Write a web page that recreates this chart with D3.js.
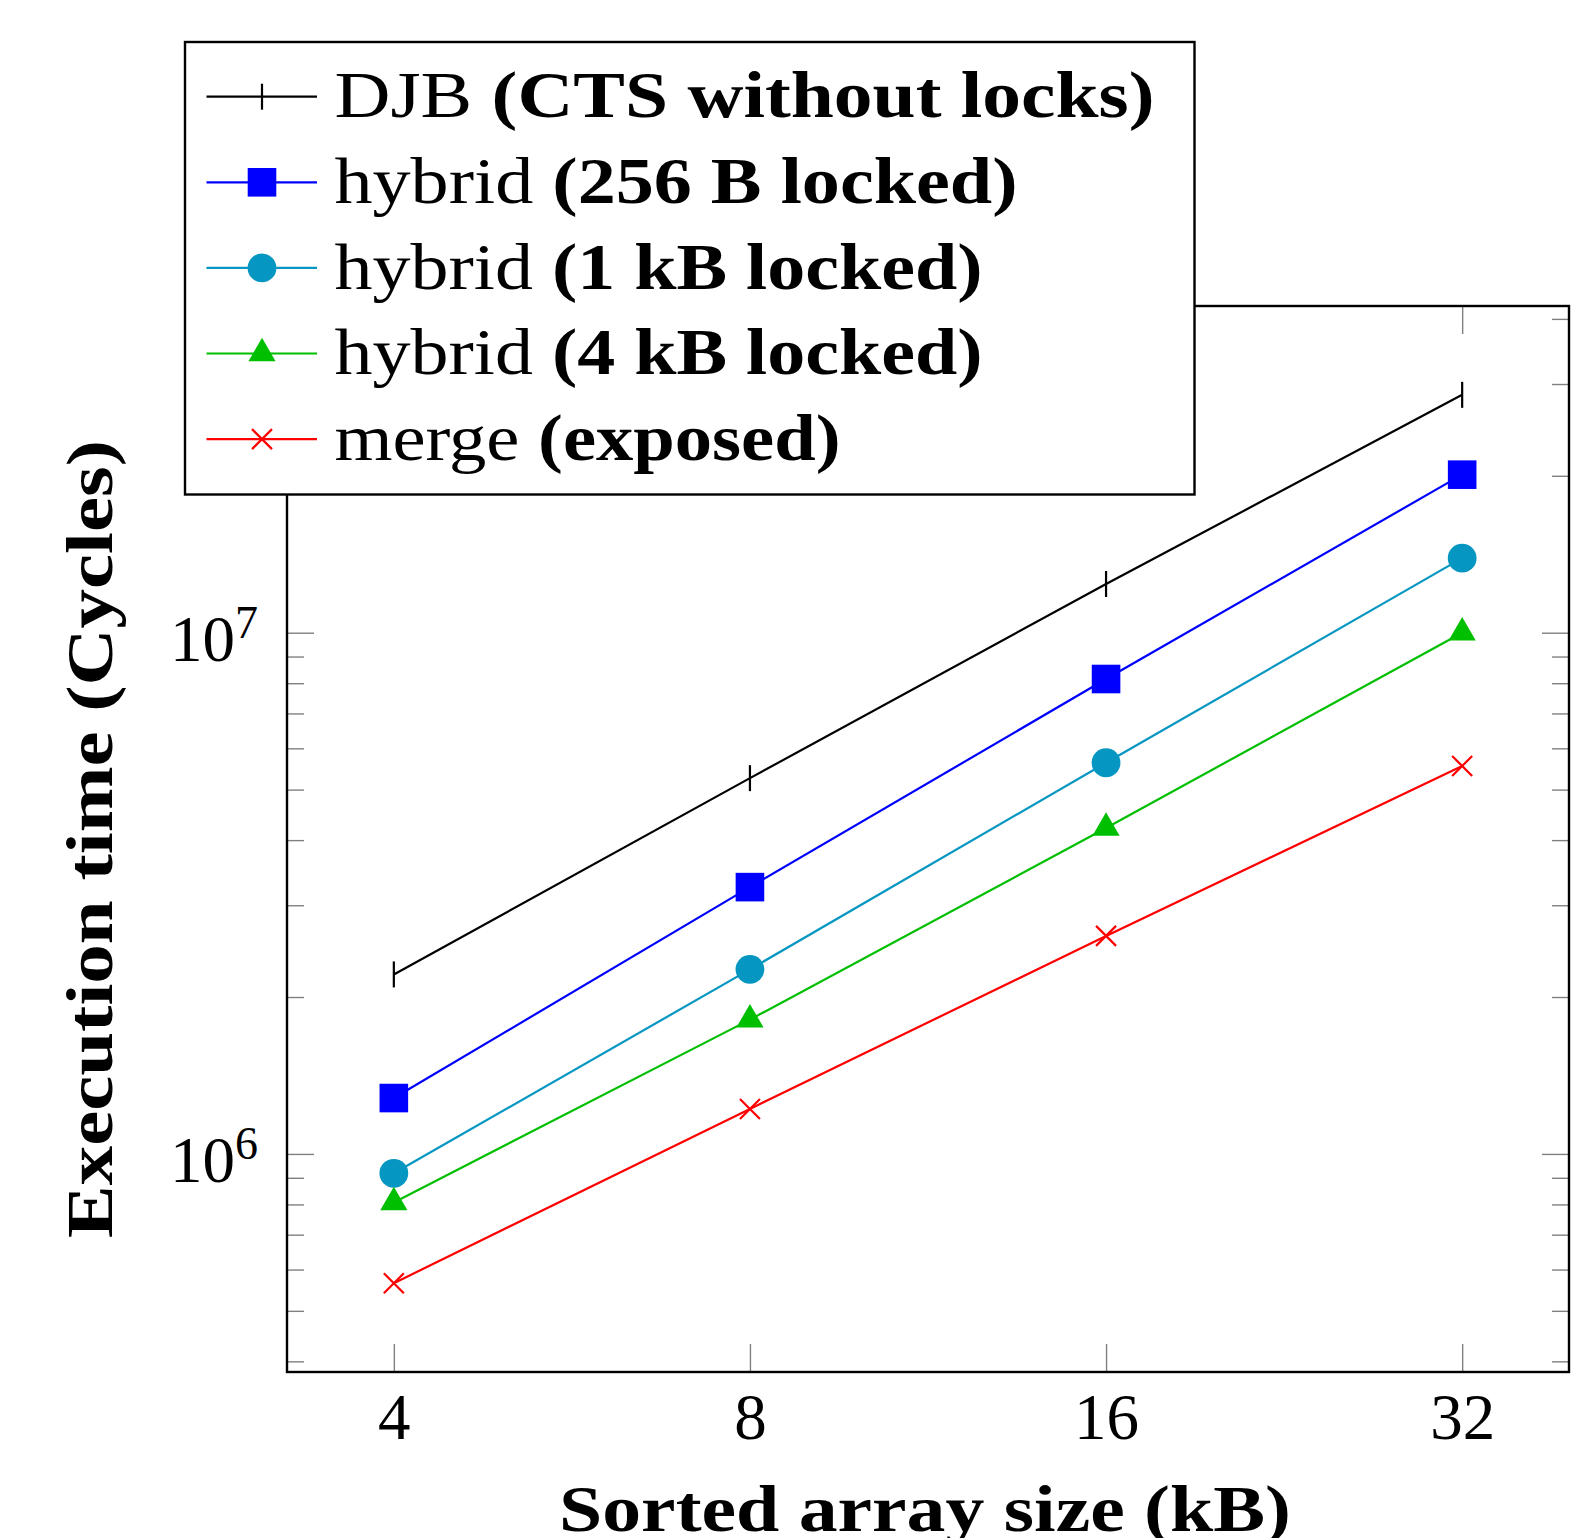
<!DOCTYPE html>
<html>
<head>
<meta charset="utf-8">
<script src="https://cdn.jsdelivr.net/npm/d3@7"></script>
<style>
    body { margin: 0; background: #fff; }
    text { font-family: "Liberation Serif", "Times New Roman", serif; fill: #000; }
</style>
</head>
<body>
<svg id="chart" width="1594" height="1538"></svg>
<script>
// sorted array size in kB (x axis, log2)
let sizes = [4, 8, 16, 32];

// execution time in cycles
let djb = [2.21e6, 5.26e6, 1.24e7, 2.86e7];
let hybrid256 = [1.28e6, 3.25e6, 8.15e6, 2.01e7];
let hybrid1k = [9.18e5, 2.26e6, 5.63e6, 1.39e7];
let hybrid4k = [8.07e5, 1.81e6, 4.22e6, 1.00e7];
let merge = [5.65e5, 1.22e6, 2.62e6, 5.55e6];

let names = ["DJB", "hybrid", "hybrid", "hybrid", "merge"];
let notes = ["(CTS without locks)", "(256 B locked)", "(1 kB locked)", "(4 kB locked)", "(exposed)"];
let colors = ["#000000", "#0000ff", "#0596c1", "#00bf00", "#ff0000"];
let marks = ["bar", "square", "circle", "triangle", "cross"];
let yMajor = [1e6, 1e7];

let xTitle = "Sorted array size (kB)";
let yTitle = "Execution time (Cycles)";

let allSeries = [djb, hybrid256, hybrid1k, hybrid4k, merge];

let plotLeft = 287, plotRight = 1569, plotTop = 306, plotBottom = 1372;

let svg = d3.select("#chart");

// pgfplots style: enlarge limits by 10% on each side (in log space)
let lx = d3.extent(sizes, d => Math.log2(d));
let padX = (lx[1] - lx[0]) * 0.1;
let x = d3.scaleLog().base(2)
    .domain([Math.pow(2, lx[0] - padX), Math.pow(2, lx[1] + padX)])
    .range([plotLeft, plotRight]);

let ly = d3.extent(allSeries.flat(), d => Math.log10(d));
let padY = (ly[1] - ly[0]) * 0.1;
let y = d3.scaleLog()
    .domain([Math.pow(10, ly[0] - padY), Math.pow(10, ly[1] + padY)])
    .range([plotBottom, plotTop]);

// minor ticks 2..9 x 10^k inside the domain
let yMinor = [];
for (let k = 5; k <= 7; k++) {
    for (let m = 2; m <= 9; m++) {
        let v = m * Math.pow(10, k);
        if (v > y.domain()[0] && v < y.domain()[1]) yMinor.push(v);
    }
}

function styleTicks(g) {
    g.select(".domain").remove();
    g.selectAll(".tick line").attr("stroke", "#808080").attr("stroke-width", 1.4);
}

// x axis bottom + top (ticks inside)
let xAxisB = svg.append("g")
    .attr("transform", "translate(0," + plotBottom + ")")
    .call(d3.axisBottom(x).tickValues(sizes).tickSize(-28).tickPadding(21).tickFormat(d3.format("d")));
styleTicks(xAxisB);
xAxisB.selectAll("text").attr("font-size", 65).attr("font-family", "Liberation Serif").attr("fill", "#000");

svg.append("g")
    .attr("transform", "translate(0," + plotTop + ")")
    .call(d3.axisTop(x).tickValues(sizes).tickSize(-28).tickFormat(""))
    .call(styleTicks);

// y axis left + right, major and minor
let yAxisL = svg.append("g")
    .attr("transform", "translate(" + plotLeft + ",0)")
    .call(d3.axisLeft(y).tickValues(yMajor).tickSize(-27).tickPadding(29).tickFormat(""));
styleTicks(yAxisL);
yAxisL.selectAll(".tick text")
    .attr("font-size", 65)
    .attr("font-family", "Liberation Serif")
    .attr("fill", "#000")
    .attr("dy", 28)
    .text("10")
    .append("tspan")
    .attr("font-size", 46)
    .attr("dy", -23)
    .text(d => Math.round(Math.log10(d)));

svg.append("g")
    .attr("transform", "translate(" + plotLeft + ",0)")
    .call(d3.axisLeft(y).tickValues(yMinor).tickSize(-17).tickFormat(""))
    .call(styleTicks);

svg.append("g")
    .attr("transform", "translate(" + plotRight + ",0)")
    .call(d3.axisRight(y).tickValues(yMajor).tickSize(-27).tickFormat(""))
    .call(styleTicks);

svg.append("g")
    .attr("transform", "translate(" + plotRight + ",0)")
    .call(d3.axisRight(y).tickValues(yMinor).tickSize(-17).tickFormat(""))
    .call(styleTicks);

// frame
svg.append("rect")
    .attr("x", plotLeft).attr("y", plotTop)
    .attr("width", plotRight - plotLeft).attr("height", plotBottom - plotTop)
    .attr("fill", "none").attr("stroke", "#000").attr("stroke-width", 2.4);

// markers
function markPath(type) {
    if (type === "bar") return "M0,-13V13";
    if (type === "cross") return "M-10,-10L10,10M-10,10L10,-10";
    if (type === "square") return d3.symbol(d3.symbolSquare, 28.6 * 28.6)();
    if (type === "triangle") return d3.symbol(d3.symbolTriangle, 320)();
    return d3.symbol(d3.symbolCircle, Math.PI * 14.4 * 14.4)();
}

function drawMark(g, type, color) {
    let filled = type === "square" || type === "circle" || type === "triangle";
    g.append("path")
        .attr("d", markPath(type))
        .attr("fill", filled ? color : "none")
        .attr("stroke", color)
        .attr("stroke-width", filled ? 0 : 2.2);
}

let line = d3.line()
    .x((d, i) => x(sizes[i]))
    .y(d => y(d));

allSeries.forEach(function (vals, s) {
    svg.append("path")
        .datum(vals)
        .attr("d", line)
        .attr("fill", "none")
        .attr("stroke", colors[s])
        .attr("stroke-width", 2.2);

    svg.selectAll(".pt" + s)
        .data(vals)
        .enter()
        .append("g")
        .attr("class", "pt" + s)
        .attr("transform", (d, i) => "translate(" + x(sizes[i]) + "," + y(d) + ")")
        .each(function () { drawMark(d3.select(this), marks[s], colors[s]); });
});

// legend box (drawn over the frame)
let lg = svg.append("g");
lg.append("rect")
    .attr("x", 185).attr("y", 42)
    .attr("width", 1194.5 - 185).attr("height", 494.5 - 42)
    .attr("fill", "#fff").attr("stroke", "#000").attr("stroke-width", 2.4);

let textWidths = [820, 683, 648, 648, 506];
names.forEach(function (n, i) {
    let cy = 96.7 + i * 85.6;
    lg.append("line")
        .attr("x1", 206.5).attr("x2", 317)
        .attr("y1", cy).attr("y2", cy)
        .attr("stroke", colors[i]).attr("stroke-width", 2.2);
    let m = lg.append("g").attr("transform", "translate(262," + cy + ")");
    drawMark(m, marks[i], colors[i]);

    let t = lg.append("text")
        .attr("x", 334.5)
        .attr("y", cy + 20.6)
        .attr("font-size", 65)
        .attr("textLength", textWidths[i])
        .attr("lengthAdjust", "spacingAndGlyphs");
    t.append("tspan").text(n + " ");
    t.append("tspan").attr("font-weight", "bold").text(notes[i]);
});

// axis titles
svg.append("text")
    .attr("x", (plotLeft + plotRight) / 2 - 3)
    .attr("y", 1531)
    .attr("text-anchor", "middle")
    .attr("font-size", 66)
    .attr("font-weight", "bold")
    .attr("textLength", 732)
    .attr("lengthAdjust", "spacingAndGlyphs")
    .text(xTitle);

svg.append("text")
    .attr("transform", "translate(112," + ((plotTop + plotBottom) / 2) + ") rotate(-90)")
    .attr("text-anchor", "middle")
    .attr("font-size", 66)
    .attr("font-weight", "bold")
    .attr("textLength", 798)
    .attr("lengthAdjust", "spacingAndGlyphs")
    .text(yTitle);
</script>
</body>
</html>
